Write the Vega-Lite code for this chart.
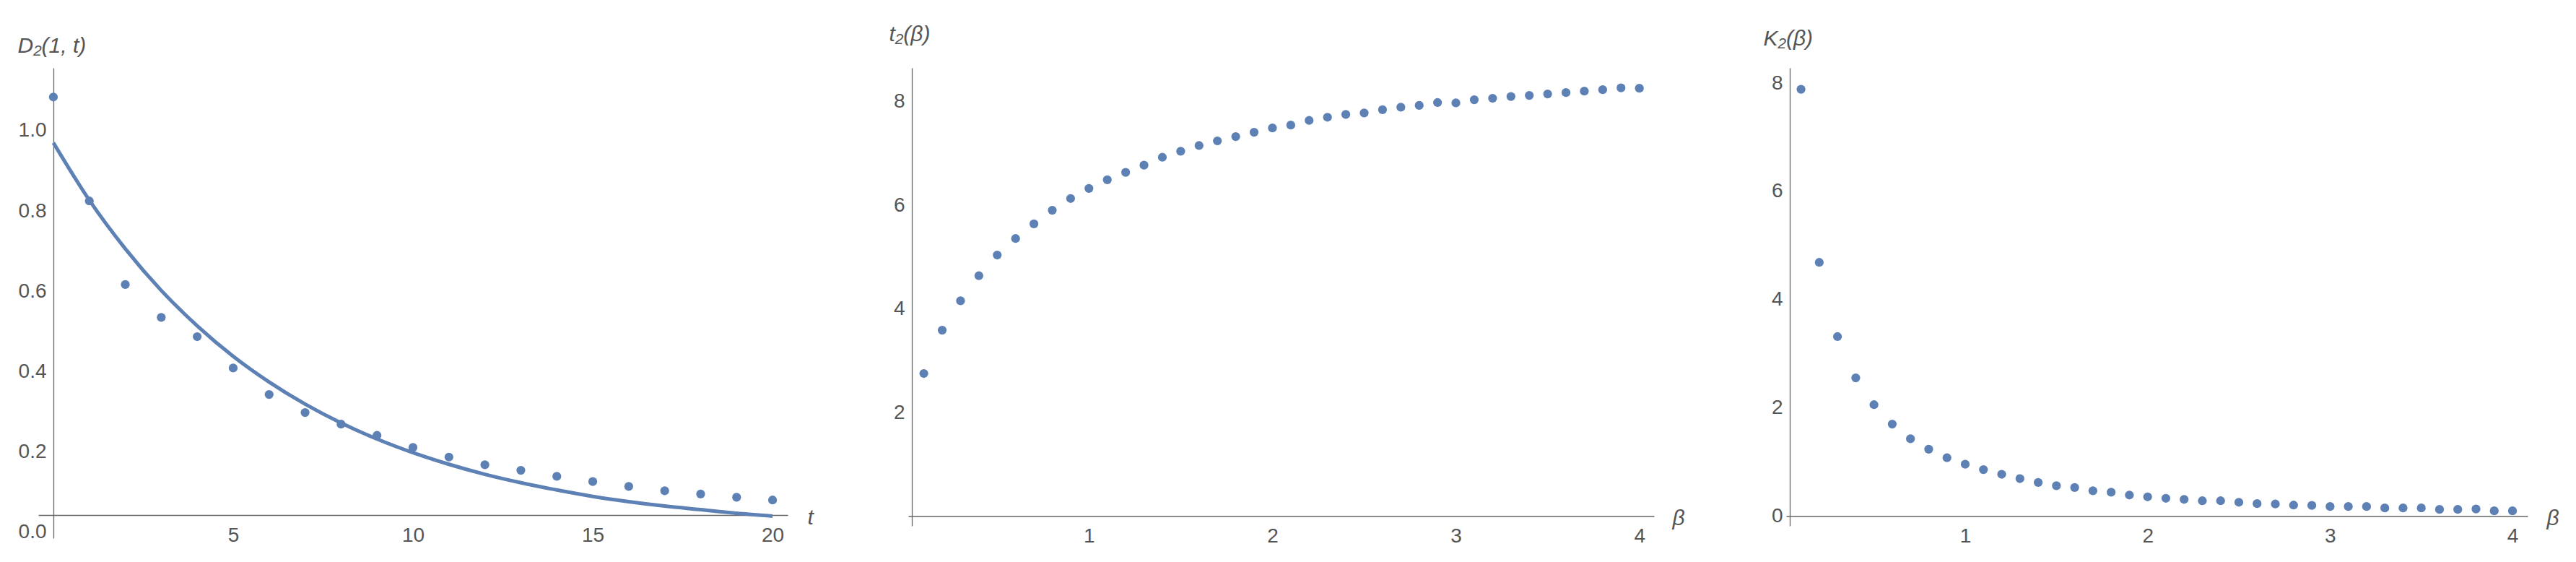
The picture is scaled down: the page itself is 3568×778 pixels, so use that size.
{
  "$schema": "https://vega.github.io/schema/vega-lite/v6.json",
  "background": "white",
  "padding": {"left": 24, "top": 32, "right": 5, "bottom": 5},
  "bounds": "flush",
  "spacing": 167,
  "config": {
    "view": {"stroke": null},
    "axis": {
      "domainColor": "#666666", "domainWidth": 1.3,
      "tickColor": "#666666", "tickWidth": 1.3, "tickSize": 0,
      "labelFont": "Liberation Sans", "labelFontSize": 28, "labelColor": "#555555",
      "titleFont": "Liberation Sans", "titleFontSize": 30, "titleFontStyle": "italic", "titleFontWeight": "normal", "titleColor": "#555555",
      "grid": false, "labelOverlap": false, "labelFlush": false, "labelBound": false,
      "titleAngle": 0, "titleAlign": "left", "titleBaseline": "alphabetic"
    }
  },
  "datasets": {
    "d2_points": [
      {"t": 0, "D": 1.084}, {"t": 1, "D": 0.825}, {"t": 2, "D": 0.617}, {"t": 3, "D": 0.535},
      {"t": 4, "D": 0.487}, {"t": 5, "D": 0.409}, {"t": 6, "D": 0.343}, {"t": 7, "D": 0.298},
      {"t": 8, "D": 0.269}, {"t": 9, "D": 0.241}, {"t": 10, "D": 0.211}, {"t": 11, "D": 0.187},
      {"t": 12, "D": 0.168}, {"t": 13, "D": 0.154}, {"t": 14, "D": 0.139}, {"t": 15, "D": 0.126},
      {"t": 16, "D": 0.114}, {"t": 17, "D": 0.103}, {"t": 18, "D": 0.095}, {"t": 19, "D": 0.087},
      {"t": 20, "D": 0.080}
    ],
    "d2_fit": [
      {"t": 0, "D": 0.970}, {"t": 1, "D": 0.827}, {"t": 2, "D": 0.706}, {"t": 3, "D": 0.602},
      {"t": 4, "D": 0.514}, {"t": 5, "D": 0.438}, {"t": 6, "D": 0.374}, {"t": 7, "D": 0.319},
      {"t": 8, "D": 0.272}, {"t": 9, "D": 0.232}, {"t": 10, "D": 0.198}, {"t": 11, "D": 0.169},
      {"t": 12, "D": 0.144}, {"t": 13, "D": 0.123}, {"t": 14, "D": 0.105}, {"t": 15, "D": 0.089},
      {"t": 16, "D": 0.076}, {"t": 17, "D": 0.065}, {"t": 18, "D": 0.056}, {"t": 19, "D": 0.047},
      {"t": 20, "D": 0.040}
    ],
    "t2": [
      {"beta": 0.1, "t2": 2.753}, {"beta": 0.2, "t2": 3.589}, {"beta": 0.3, "t2": 4.155}, {"beta": 0.4, "t2": 4.639},
      {"beta": 0.5, "t2": 5.039}, {"beta": 0.6, "t2": 5.357}, {"beta": 0.7, "t2": 5.640}, {"beta": 0.8, "t2": 5.903},
      {"beta": 0.9, "t2": 6.130}, {"beta": 1.0, "t2": 6.324}, {"beta": 1.1, "t2": 6.490}, {"beta": 1.2, "t2": 6.635},
      {"beta": 1.3, "t2": 6.773}, {"beta": 1.4, "t2": 6.925}, {"beta": 1.5, "t2": 7.042}, {"beta": 1.6, "t2": 7.152},
      {"beta": 1.7, "t2": 7.242}, {"beta": 1.8, "t2": 7.325}, {"beta": 1.9, "t2": 7.408}, {"beta": 2.0, "t2": 7.491},
      {"beta": 2.1, "t2": 7.546}, {"beta": 2.2, "t2": 7.636}, {"beta": 2.3, "t2": 7.698}, {"beta": 2.4, "t2": 7.753},
      {"beta": 2.5, "t2": 7.781}, {"beta": 2.6, "t2": 7.843}, {"beta": 2.7, "t2": 7.891}, {"beta": 2.8, "t2": 7.926},
      {"beta": 2.9, "t2": 7.981}, {"beta": 3.0, "t2": 7.974}, {"beta": 3.1, "t2": 8.036}, {"beta": 3.2, "t2": 8.064},
      {"beta": 3.3, "t2": 8.098}, {"beta": 3.4, "t2": 8.119}, {"beta": 3.5, "t2": 8.147}, {"beta": 3.6, "t2": 8.174},
      {"beta": 3.7, "t2": 8.202}, {"beta": 3.8, "t2": 8.229}, {"beta": 3.9, "t2": 8.264}, {"beta": 4.0, "t2": 8.257}
    ],
    "k2": [
      {"beta": 0.1, "K2": 7.887}, {"beta": 0.2, "K2": 4.689}, {"beta": 0.3, "K2": 3.318}, {"beta": 0.4, "K2": 2.556},
      {"beta": 0.5, "K2": 2.060}, {"beta": 0.6, "K2": 1.702}, {"beta": 0.7, "K2": 1.430}, {"beta": 0.8, "K2": 1.238},
      {"beta": 0.9, "K2": 1.079}, {"beta": 1.0, "K2": 0.960}, {"beta": 1.1, "K2": 0.861}, {"beta": 1.2, "K2": 0.775},
      {"beta": 1.3, "K2": 0.695}, {"beta": 1.4, "K2": 0.623}, {"beta": 1.5, "K2": 0.563}, {"beta": 1.6, "K2": 0.530},
      {"beta": 1.7, "K2": 0.470}, {"beta": 1.8, "K2": 0.444}, {"beta": 1.9, "K2": 0.391}, {"beta": 2.0, "K2": 0.358},
      {"beta": 2.1, "K2": 0.331}, {"beta": 2.2, "K2": 0.311}, {"beta": 2.3, "K2": 0.285}, {"beta": 2.4, "K2": 0.285},
      {"beta": 2.5, "K2": 0.258}, {"beta": 2.6, "K2": 0.232}, {"beta": 2.7, "K2": 0.225}, {"beta": 2.8, "K2": 0.205},
      {"beta": 2.9, "K2": 0.199}, {"beta": 3.0, "K2": 0.179}, {"beta": 3.1, "K2": 0.179}, {"beta": 3.2, "K2": 0.179},
      {"beta": 3.3, "K2": 0.152}, {"beta": 3.4, "K2": 0.152}, {"beta": 3.5, "K2": 0.152}, {"beta": 3.6, "K2": 0.126},
      {"beta": 3.7, "K2": 0.126}, {"beta": 3.8, "K2": 0.132}, {"beta": 3.9, "K2": 0.099}, {"beta": 4.0, "K2": 0.099}
    ]
  },
  "hconcat": [
    {
      "width": 1038,
      "height": 651,
      "layer": [
        {
          "data": {"name": "d2_fit"},
          "mark": {"type": "line", "color": "#5E81B5", "strokeWidth": 5, "interpolate": "monotone", "clip": true},
          "encoding": {
            "x": {
              "field": "t", "type": "quantitative",
              "scale": {"domain": [-0.42, 20.42], "nice": false, "zero": false},
              "axis": {
                "values": [1,2,3,4,5,6,7,8,9,10,11,12,13,14,15,16,17,18,19,20],
                "offset": -32,
                "labelPadding": 14,
                "labelExpr": "datum.value % 5 === 0 ? datum.label : ''",
                "title": "t", "titleX": 1065, "titleY": 12,
                "encode": {"ticks": {"update": {"y2": {"signal": "datum.value % 5 === 0 ? -9 : -5"}}}}
              }
            },
            "y": {
              "field": "D", "type": "quantitative",
              "scale": {"domain": [-0.015, 1.1565], "nice": false, "zero": false},
              "axis": {
                "values": [0,0.05,0.1,0.15,0.2,0.25,0.3,0.35,0.4,0.45,0.5,0.55,0.6,0.65,0.7,0.75,0.8,0.85,0.9,0.95,1.0,1.05,1.1],
                "offset": -21,
                "labelPadding": 10,
                "labelExpr": "abs(datum.value*5 - round(datum.value*5)) < 0.001 ? format(datum.value, '.1f') : ''",
                "title": "D₂(1, t)", "titleX": -50, "titleY": -22,
                "encode": {"ticks": {"update": {"x2": {"signal": "abs(datum.value*5 - round(datum.value*5)) < 0.001 ? 9 : 5"}}}}
              }
            }
          }
        },
        {
          "data": {"name": "d2_points"},
          "mark": {"type": "circle", "color": "#5E81B5", "size": 150, "opacity": 1},
          "encoding": {
            "x": {"field": "t", "type": "quantitative"},
            "y": {"field": "D", "type": "quantitative"}
          }
        }
      ]
    },
    {
      "bounds": "flush",
      "spacing": 183,
      "hconcat": [
        {
          "width": 1033,
          "height": 634,
          "data": {"name": "t2"},
          "mark": {"type": "circle", "color": "#5E81B5", "size": 150, "opacity": 1},
          "encoding": {
            "x": {
              "field": "beta", "type": "quantitative",
              "scale": {"domain": [0.015, 4.08], "nice": false, "zero": false},
              "axis": {
                "values": [0.2,0.4,0.6,0.8,1,1.2,1.4,1.6,1.8,2,2.2,2.4,2.6,2.8,3,3.2,3.4,3.6,3.8,4],
                "offset": -13.5,
                "labelPadding": 14,
                "labelExpr": "abs(datum.value - round(datum.value)) < 0.001 ? format(datum.value, 'd') : ''",
                "title": "β", "titleX": 1058, "titleY": 12,
                "encode": {"ticks": {"update": {"y2": {"signal": "abs(datum.value - round(datum.value)) < 0.001 ? -9 : -5"}}}}
              }
            },
            "y": {
              "field": "t2", "type": "quantitative",
              "scale": {"domain": [-0.188, 8.65], "nice": false, "zero": false},
              "axis": {
                "values": [0.5,1,1.5,2,2.5,3,3.5,4,4.5,5,5.5,6,6.5,7,7.5,8,8.5],
                "offset": -5,
                "labelPadding": 10,
                "labelExpr": "abs(datum.value/2 - round(datum.value/2)) < 0.001 ? format(datum.value, 'd') : ''",
                "title": "t₂(β)", "titleX": -32, "titleY": -38,
                "encode": {"ticks": {"update": {"x2": {"signal": "abs(datum.value/2 - round(datum.value/2)) < 0.001 ? 9 : 5"}}}}
              }
            }
          }
        },
        {
          "width": 1027,
          "height": 634,
          "data": {"name": "k2"},
          "mark": {"type": "circle", "color": "#5E81B5", "size": 150, "opacity": 1},
          "encoding": {
            "x": {
              "field": "beta", "type": "quantitative",
              "scale": {"domain": [0.0186, 4.083], "nice": false, "zero": false},
              "axis": {
                "values": [0.2,0.4,0.6,0.8,1,1.2,1.4,1.6,1.8,2,2.2,2.4,2.6,2.8,3,3.2,3.4,3.6,3.8,4],
                "offset": -13.5,
                "labelPadding": 14,
                "labelExpr": "abs(datum.value - round(datum.value)) < 0.001 ? format(datum.value, 'd') : ''",
                "title": "β", "titleX": 1053, "titleY": 12,
                "encode": {"ticks": {"update": {"y2": {"signal": "abs(datum.value - round(datum.value)) < 0.001 ? -9 : -5"}}}}
              }
            },
            "y": {
              "field": "K2", "type": "quantitative",
              "scale": {"domain": [-0.179, 8.282], "nice": false, "zero": false},
              "axis": {
                "values": [0,0.5,1,1.5,2,2.5,3,3.5,4,4.5,5,5.5,6,6.5,7,7.5,8],
                "offset": -5,
                "labelPadding": 10,
                "labelExpr": "abs(datum.value/2 - round(datum.value/2)) < 0.001 ? format(datum.value, 'd') : ''",
                "title": "K₂(β)", "titleX": -37, "titleY": -32,
                "encode": {"ticks": {"update": {"x2": {"signal": "abs(datum.value/2 - round(datum.value/2)) < 0.001 ? 9 : 5"}}}}
              }
            }
          }
        }
      ]
    }
  ]
}
